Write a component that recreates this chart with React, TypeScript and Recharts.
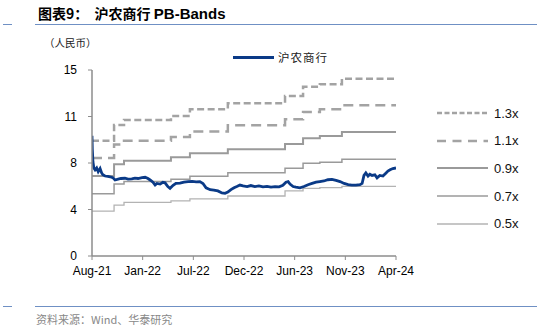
import React from "react";
import { LineChart, Line, XAxis, YAxis } from "recharts";

// x is days since listing (2021-08-19)
const tickDays = [0, 163, 326, 489, 652, 815, 978];
const tickLabels = ["Aug-21", "Jan-22", "Jul-22", "Dec-22", "Jun-23", "Nov-23", "Apr-24"];
const yTicks = [0, 3.75, 7.5, 11.25, 15];

const priceDays = [
  0, 1, 3, 6, 10, 15, 20, 26, 31, 35, 42, 51, 63, 68, 74, 84, 93, 106, 116, 128,
  138, 148, 161, 171, 180, 187, 196, 203, 209, 219, 228, 235, 244, 251, 261, 270,
  283, 296, 309, 322, 335, 347, 357, 367, 380, 392, 405, 418, 428, 437, 447, 457,
  466, 476, 486, 499, 511, 524, 537, 550, 563, 576, 589, 602, 614, 624, 631, 637,
  647, 656, 669, 682, 695, 708, 721, 733, 746, 759, 772, 785, 798, 811, 824, 836,
  849, 862, 869, 875, 881, 888, 894, 901, 910, 917, 926, 936, 946, 952, 959, 968, 978,
];
const priceValues = [
  9.7, 8.6, 7.6, 7.1, 6.95, 7.1, 6.8, 7.05, 6.7, 6.55, 6.45, 6.42, 6.35, 6.3, 6.13, 6.2, 6.25, 6.27, 6.2, 6.22,
  6.28, 6.25, 6.32, 6.35, 6.25, 6.13, 5.95, 5.73, 5.85, 5.8, 5.95, 5.9, 5.6, 5.46, 5.7, 5.86,
  5.88, 5.95, 6.0, 6.02, 5.98, 6.0, 5.85, 5.5, 5.35, 5.32, 5.25, 5.08, 5.05, 5.15, 5.35, 5.5,
  5.6, 5.72, 5.65, 5.6, 5.68, 5.6, 5.65, 5.58, 5.62, 5.55, 5.6, 5.58, 5.7, 5.95, 6.0, 5.8,
  5.6, 5.55, 5.5, 5.6, 5.75, 5.85, 5.95, 6.0, 6.05, 6.15, 6.18, 6.1, 6.0, 5.85, 5.75, 5.72,
  5.72, 5.75, 5.85, 6.5, 6.7, 6.45, 6.6, 6.5, 6.55, 6.3, 6.5, 6.45, 6.7, 6.85, 6.95, 7.05, 7.1,
];

// book value updates -> band levels, last level held to the end of the axis
const stepDays = [0, 71, 103, 254, 315, 437, 621, 679, 733, 804, 978];
const band13 = [9.3, 10.56, 10.97, 11.3, 11.83, 12.31, 12.9, 13.65, 13.85, 14.3];
const band11 = [7.9, 9.0, 9.3, 9.6, 10.05, 10.55, 11.02, 11.62, 11.83, 12.15];
const band09 = [6.45, 7.39, 7.69, 7.96, 8.28, 8.6, 9.03, 9.49, 9.68, 10.0];
const band07 = [5.02, 5.8, 6.0, 6.19, 6.44, 6.72, 7.07, 7.47, 7.56, 7.8];
const band05 = [3.62, 4.11, 4.32, 4.45, 4.6, 4.84, 5.25, 5.45, 5.52, 5.62];

const priceData = priceDays.map((d, i) => ({ day: d, v: priceValues[i] }));
const toSteps = (vals: number[]) =>
  stepDays.map((d, i) => ({ day: d, v: vals[Math.min(i, vals.length - 1)] }));

const bands = [
  { name: "1.3x", vals: band13, color: "#a3a3a3", width: 2.5, dash: "7 3.5" },
  { name: "1.1x", vals: band11, color: "#a3a3a3", width: 2.5, dash: "10 6" },
  { name: "0.9x", vals: band09, color: "#9a9a9a", width: 2, dash: undefined },
  { name: "0.7x", vals: band07, color: "#9a9a9a", width: 1.5, dash: undefined },
  { name: "0.5x", vals: band05, color: "#b3b3b3", width: 1.3, dash: undefined },
];

const cjk = '"Noto Sans CJK SC", sans-serif';
const latin = '"Liberation Sans", Arial, sans-serif';
const axisColor = "#8c8c8c";

export default function App() {
  return (
    <div style={{ position: "relative", width: 537, height: 330, background: "#fff" }}>
      <style>{`body{margin:0}`}</style>
      <div style={{ position: "absolute", left: 38, top: 3, fontSize: 14, fontWeight: 700, fontFamily: cjk, whiteSpace: "pre" }}>
        图表9：  沪农商行 <span style={{ fontFamily: latin, fontSize: 15 }}>PB-Bands</span>
      </div>
      <div style={{ position: "absolute", left: 35, right: 0, top: 24, height: 1, background: "#6f90c4" }} />
      <div style={{ position: "absolute", left: 3, width: 9, top: 24, height: 1, background: "#6f90c4" }} />
      <div style={{ position: "absolute", left: 44, top: 35, fontSize: 10.5, fontFamily: cjk, color: "#222" }}>（人民币）</div>

      <div style={{ position: "absolute", left: 233, top: 49, display: "flex", alignItems: "center" }}>
        <div style={{ width: 41, height: 3, background: "#0a3a87" }} />
        <span style={{ marginLeft: 4, fontSize: 11.5, fontFamily: cjk, letterSpacing: 1, color: "#222" }}>沪农商行</span>
      </div>

      <div style={{ position: "absolute", left: 0, top: 0 }}>
        <LineChart width={537} height={330} margin={{ top: 70, right: 141, bottom: 54, left: 50 }}>
          <XAxis
            dataKey="day"
            type="number"
            domain={[0, 978]}
            ticks={tickDays}
            tickFormatter={(d: number) => tickLabels[tickDays.indexOf(d)]}
            allowDataOverflow
            height={20}
            interval={0}
            axisLine={{ stroke: axisColor, strokeWidth: 1.5 }}
            tickLine={{ stroke: axisColor }}
            tickSize={4}
            tickMargin={6}
            tick={{ fill: "#000", fontSize: 12, fontFamily: latin }}
          />
          <YAxis
            domain={[0, 15]}
            ticks={yTicks}
            tickFormatter={(v: number) => String(Math.round(v))}
            width={42}
            interval={0}
            axisLine={{ stroke: axisColor, strokeWidth: 1.5 }}
            tickLine={{ stroke: axisColor }}
            tickSize={4}
            tickMargin={11}
            tick={{ fill: "#000", fontSize: 12, fontFamily: latin }}
          />
          {bands.map((b) => (
            <Line
              key={b.name}
              data={toSteps(b.vals)}
              dataKey="v"
              type="stepAfter"
              stroke={b.color}
              strokeWidth={b.width}
              strokeDasharray={b.dash}
              dot={false}
              isAnimationActive={false}
            />
          ))}
          <Line
            data={priceData}
            dataKey="v"
            type="linear"
            stroke="#0a3a87"
            strokeWidth={2.8}
            dot={false}
            isAnimationActive={false}
          />
        </LineChart>
      </div>

      {bands.map((b, i) => (
        <div key={b.name} style={{ position: "absolute", left: 437, top: 113 + i * 27.7 - 8, height: 16, display: "flex", alignItems: "center" }}>
          <svg width={52} height={6}>
            <line x1={0} y1={3} x2={51} y2={3} stroke={b.color} strokeWidth={b.width} strokeDasharray={i === 0 ? "5 2.5" : b.dash ? "9 6.5" : undefined} />
          </svg>
          <span style={{ marginLeft: 5, fontSize: 13, fontFamily: latin, color: "#111" }}>{b.name}</span>
        </div>
      ))}

      <div style={{ position: "absolute", left: 35, right: 0, top: 306, height: 1, background: "#6f90c4" }} />
      <div style={{ position: "absolute", left: 3, width: 9, top: 306, height: 1, background: "#6f90c4" }} />
      <div style={{ position: "absolute", left: 36, top: 311, fontSize: 11, fontFamily: cjk, color: "#888" }}>资料来源：Wind、华泰研究</div>
    </div>
  );
}
